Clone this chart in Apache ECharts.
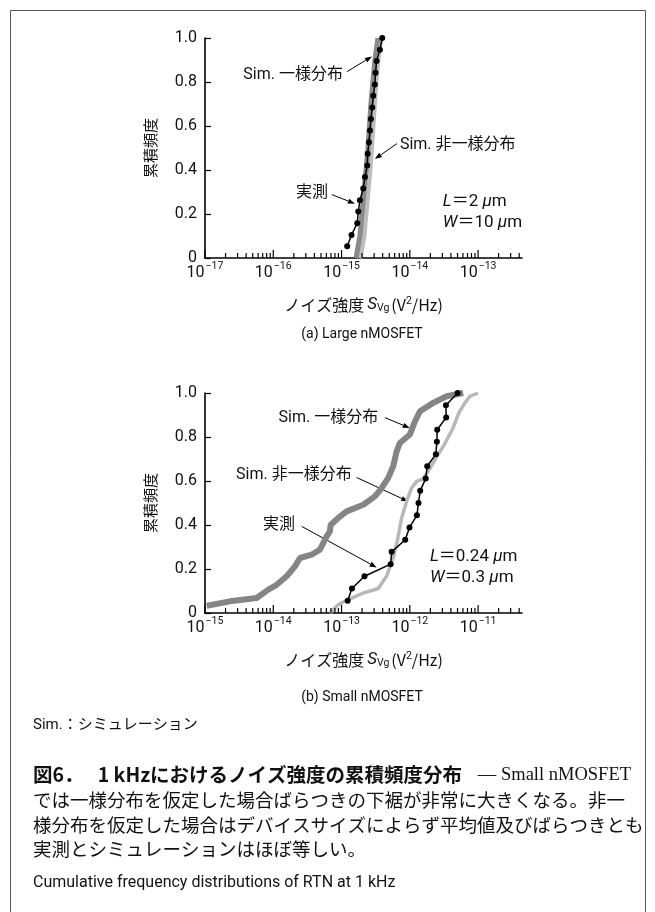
<!DOCTYPE html>
<html>
<head>
<meta charset="utf-8">
<script src="https://cdn.jsdelivr.net/npm/echarts@6.0.0/dist/echarts.min.js"></script>
<style>
html, body { margin: 0; padding: 0; background: #fff; }
#main { width: 655px; height: 912px; }
</style>
</head>
<body>
<div id="main"></div>
<script type="text/javascript">
// ---- (a) Large nMOSFET : [Svg (V^2/Hz), cumulative frequency]
var largeMeasured = [
    [1.21e-15, 0.053], [1.40e-15, 0.105], [1.70e-15, 0.158], [1.76e-15, 0.211],
    [1.86e-15, 0.263], [2.08e-15, 0.316], [2.20e-15, 0.368], [2.38e-15, 0.421],
    [2.41e-15, 0.474], [2.52e-15, 0.526], [2.61e-15, 0.579], [2.69e-15, 0.632],
    [2.82e-15, 0.684], [2.92e-15, 0.737], [3.08e-15, 0.789], [3.15e-15, 0.842],
    [3.26e-15, 0.895], [3.65e-15, 0.947], [3.95e-15, 1.0]
];
var largeUniform = [
    [1.63e-15, 0.0], [1.74e-15, 0.05], [1.86e-15, 0.1], [1.99e-15, 0.2],
    [2.13e-15, 0.3], [2.28e-15, 0.4], [2.44e-15, 0.5], [2.56e-15, 0.6],
    [2.69e-15, 0.7], [2.88e-15, 0.8], [3.08e-15, 0.9], [3.41e-15, 1.0]
];
var largeNonUniform = [
    [1.80e-15, 0.0], [2.06e-15, 0.1], [2.20e-15, 0.2], [2.35e-15, 0.3],
    [2.52e-15, 0.4], [2.65e-15, 0.5], [2.79e-15, 0.6], [2.93e-15, 0.7],
    [3.08e-15, 0.8], [3.30e-15, 0.9], [3.65e-15, 1.0]
];

// ---- (b) Small nMOSFET
var smallMeasured = [
    [1.23e-13, 0.056], [1.42e-13, 0.111], [2.17e-13, 0.167], [5.24e-13, 0.222],
    [5.42e-13, 0.278], [8.57e-13, 0.333], [9.9e-13, 0.389], [1.27e-12, 0.444],
    [1.34e-12, 0.5], [1.42e-12, 0.556], [1.71e-12, 0.611], [1.80e-12, 0.667],
    [2.41e-12, 0.722], [2.49e-12, 0.778], [2.52e-12, 0.833], [3.41e-12, 0.889],
    [3.38e-12, 0.944], [5.02e-12, 1.0]
];
var smallUniform = [
    [1.06e-15, 0.033], [2.32e-15, 0.053], [5.71e-15, 0.068], [8.45e-15, 0.106],
    [1.12e-14, 0.128], [1.57e-14, 0.167], [2.08e-14, 0.212], [2.46e-14, 0.25],
    [3.65e-14, 0.265], [4.83e-14, 0.288], [6.05e-14, 0.348], [6.76e-14, 0.371],
    [6.9e-14, 0.40], [8.95e-14, 0.432], [1.19e-13, 0.462], [2.08e-13, 0.492],
    [3.08e-13, 0.53], [3.86e-13, 0.568], [4.83e-13, 0.614], [5.71e-13, 0.667],
    [6.41e-13, 0.735], [7.16e-13, 0.773], [1.0e-12, 0.811], [1.19e-12, 0.871],
    [1.41e-12, 0.917], [2.20e-12, 0.955], [3.46e-12, 0.985], [6.05e-12, 1.0]
];
var smallNonUniform = [
    [6.76e-14, 0.0], [8.95e-14, 0.038], [1.24e-13, 0.06], [2.08e-13, 0.091],
    [3.41e-13, 0.11], [4.57e-13, 0.167], [5.71e-13, 0.25], [6.58e-13, 0.33],
    [7.59e-13, 0.432], [8.98e-13, 0.507], [1.06e-12, 0.568], [1.26e-12, 0.598],
    [1.57e-12, 0.61], [2.04e-12, 0.665], [2.49e-12, 0.712], [3.16e-12, 0.762],
    [4.21e-12, 0.835], [5.24e-12, 0.91], [6.41e-12, 0.955], [7.59e-12, 0.985],
    [1.0e-11, 1.0]
];

// axes: decades shown and the minor tick multipliers
var largeDecades = [-17, -16, -15, -14, -13];
var smallDecades = [-15, -14, -13, -12, -11];
var tickMultipliers = [1, 2, 3, 4, 5, 6, 7, 8, 9];
var yTicks = ['0', '0.2', '0.4', '0.6', '0.8', '1.0'];

// annotations, in data units: [text, [x, y] of text, align, arrow start, arrow end]
var largeNotes = [
    ['Sim. 一様分布', [1.05e-15, 0.833], 'right', [1.2e-15, 0.847], [2.79e-15, 0.916]],
    ['Sim. 非一様分布', [7.16e-15, 0.515], 'left', [6.47e-15, 0.52], [3.08e-15, 0.45]],
    ['実測', [6.32e-16, 0.297], 'right', [7.23e-16, 0.288], [1.57e-15, 0.247]]
];
var smallNotes = [
    ['Sim. 一様分布', [3.44e-13, 0.886], 'right', [4.32e-13, 0.888], [1.0e-12, 0.841]],
    ['Sim. 非一様分布', [1.41e-13, 0.629], 'right', [1.66e-13, 0.616], [9.48e-13, 0.507]],
    ['実測', [2.08e-14, 0.401], 'right', [2.6e-14, 0.394], [3.27e-13, 0.207]]
];
var largeSize = ['{it|L}＝2 {it|μ}m', '{it|W}＝10 {it|μ}m'];
var smallSize = ['{it|L}＝0.24 {it|μ}m', '{it|W}＝0.3 {it|μ}m'];
var largeSizePos = [3.05e-14, 0.256, 0.16];
var smallSizePos = [1.97e-12, 0.257, 0.159];

var latin = 'Roboto, "Noto Sans CJK JP", sans-serif';
var cjk = '"Noto Sans CJK JP", sans-serif';

function buildTicks(decades, max) {
    var out = [];
    decades.forEach(function (d) {
        tickMultipliers.forEach(function (m) {
            var v = m * Math.pow(10, d);
            if (v <= max) out.push([v, m === 1 ? 1 : 0]);
        });
    });
    return out;
}

function renderTick(params, api) {
    var p = api.coord([api.value(0), 0]);
    var len = api.value(1) ? 8 : 5;
    return {
        type: 'line',
        shape: { x1: p[0], y1: p[1], x2: p[0], y2: p[1] - len },
        style: { stroke: '#000', lineWidth: 1.2 }
    };
}

function powLabel(v) {
    var e = Math.round(Math.log(v) / Math.LN10);
    return '{b|10}{s|−' + (-e) + '}';
}

var xRich = {
    b: { fontSize: 16, fontFamily: latin, color: '#111', lineHeight: 20, verticalAlign: 'bottom' },
    s: { fontSize: 10.5, fontFamily: latin, color: '#111', lineHeight: 20, verticalAlign: 'top', padding: [0, 0, 0, 1] }
};

function xAxisFor(idx, min, max) {
    return {
        type: 'log',
        logBase: 10,
        gridIndex: idx,
        min: min,
        max: max,
        axisLine: { lineStyle: { color: '#000', width: 1.6 } },
        axisTick: { show: false },
        splitLine: { show: false },
        axisLabel: { formatter: powLabel, rich: xRich, margin: 3, showMaxLabel: false },
        name: 'ノイズ強度{i|S}{sub|Vg}(V{sup|2}/Hz)',
        nameLocation: 'middle',
        nameGap: 38,
        nameTextStyle: {
            fontFamily: cjk, fontSize: 16, color: '#111',
            rich: {
                i: { fontFamily: latin, fontStyle: 'italic', fontSize: 17, color: '#111', padding: [0, 0, 0, 3] },
                sub: { fontFamily: latin, fontSize: 10.5, color: '#111', verticalAlign: 'bottom', lineHeight: 18, padding: [0, 2, 0, 0] },
                sup: { fontFamily: latin, fontSize: 10.5, color: '#111', verticalAlign: 'top', lineHeight: 18 }
            }
        }
    };
}

function yAxisFor(idx) {
    return {
        type: 'value',
        gridIndex: idx,
        min: 0,
        max: 1,
        interval: 0.2,
        axisLine: { show: true, lineStyle: { color: '#000', width: 1.6 } },
        axisTick: { show: true, inside: true, length: 6, lineStyle: { color: '#000', width: 1.2 } },
        splitLine: { show: false },
        axisLabel: {
            fontSize: 16, fontFamily: latin, color: '#111', margin: 8,
            formatter: function (v) { return yTicks[Math.round(v * 5)]; }
        },
        name: '累積頻度',
        nameLocation: 'middle',
        nameGap: 47,
        nameTextStyle: { fontFamily: cjk, fontSize: 15, color: '#111' }
    };
}

function curve(name, idx, data, color, width, z) {
    return {
        name: name, type: 'line', xAxisIndex: idx, yAxisIndex: idx,
        data: data, showSymbol: false, silent: true, z: z,
        lineStyle: { color: color, width: width, join: 'bevel' }
    };
}

function measured(idx, data) {
    return {
        name: '実測', type: 'line', xAxisIndex: idx, yAxisIndex: idx,
        data: data, symbol: 'circle', symbolSize: 6, silent: true, z: 5,
        itemStyle: { color: '#000' },
        lineStyle: { color: '#000', width: 1.5 }
    };
}

function tickSeries(idx, ticks) {
    return {
        type: 'custom', xAxisIndex: idx, yAxisIndex: idx, silent: true, z: 6,
        renderItem: renderTick, data: ticks, clip: false
    };
}

var largeMax = 4.4e-13;
var smallMax = 4.4e-11;

var option = {
    animation: false,
    backgroundColor: '#fff',
    grid: [
        { left: 205, top: 38, width: 317, height: 220 },
        { left: 205, top: 393, width: 317, height: 220 }
    ],
    xAxis: [xAxisFor(0, 1e-17, largeMax), xAxisFor(1, 1e-15, smallMax)],
    yAxis: [yAxisFor(0), yAxisFor(1)],
    series: [
        curve('Sim. 非一様分布', 0, largeNonUniform, '#bdbdbd', 7, 2),
        curve('Sim. 一様分布', 0, largeUniform, '#8a8a8a', 5, 3),
        measured(0, largeMeasured),
        tickSeries(0, buildTicks(largeDecades, largeMax)),
        curve('Sim. 非一様分布', 1, smallNonUniform, '#b8b8b8', 3.5, 2),
        curve('Sim. 一様分布', 1, smallUniform, '#858585', 6, 3),
        measured(1, smallMeasured),
        tickSeries(1, buildTicks(smallDecades, smallMax))
    ]
};

var myChart = echarts.init(document.getElementById('main'));
myChart.setOption(option);

// ---- annotations and caption (placed through the grid's scales)
function arrow(p0, p1) {
    var dx = p1[0] - p0[0], dy = p1[1] - p0[1];
    var len = Math.sqrt(dx * dx + dy * dy);
    var ux = dx / len, uy = dy / len, h = 7, w = 2.6;
    var bx = p1[0] - ux * h, by = p1[1] - uy * h;
    return [
        { type: 'line', silent: true, shape: { x1: p0[0], y1: p0[1], x2: bx, y2: by }, style: { stroke: '#000', lineWidth: 1 } },
        { type: 'polygon', silent: true, shape: { points: [[p1[0], p1[1]], [bx - uy * w, by + ux * w], [bx + uy * w, by - ux * w]] }, style: { fill: '#000' } }
    ];
}

var noteRich = {
    it: { fontFamily: latin, fontStyle: 'italic', fontSize: 17, color: '#111' }
};

function notes(idx, list, size, sizePos) {
    var out = [];
    list.forEach(function (n) {
        var p = myChart.convertToPixel({ gridIndex: idx }, n[1]);
        out.push({
            type: 'text', silent: true, x: p[0], y: p[1],
            style: { text: n[0], font: '16px ' + latin, fill: '#111', align: n[2], verticalAlign: 'middle' }
        });
        var a = myChart.convertToPixel({ gridIndex: idx }, n[3]);
        var b = myChart.convertToPixel({ gridIndex: idx }, n[4]);
        out = out.concat(arrow(a, b));
    });
    for (var i = 0; i < 2; i++) {
        var q = myChart.convertToPixel({ gridIndex: idx }, [sizePos[0], sizePos[i + 1]]);
        out.push({
            type: 'text', silent: true, x: q[0], y: q[1],
            style: { text: size[i], font: '17px ' + latin, fill: '#111', align: 'left', verticalAlign: 'middle', rich: noteRich }
        });
    }
    return out;
}

function label(x, y, text, font, align) {
    return { type: 'text', silent: true, x: x, y: y, style: { text: text, font: font, fill: '#111', align: align || 'left', verticalAlign: 'middle' } };
}

var graphic = [
    { type: 'rect', silent: true, shape: { x: 10.5, y: 10.5, width: 635, height: 920 }, style: { fill: 'none', stroke: '#555', lineWidth: 1 } },
    label(362, 334, '(a) Large nMOSFET', '14px ' + latin, 'center'),
    label(362, 697, '(b) Small nMOSFET', '14px ' + latin, 'center'),
    label(33, 725, 'Sim.：シミュレーション', '15px ' + latin),
    label(33, 775, '図6．　 1 kHzにおけるノイズ強度の累積頻度分布', 'bold 19.5px ' + cjk),
    label(631, 775, '— Small nMOSFET', '18.5px "Liberation Serif", serif', 'right'),
    label(33, 800, 'では一様分布を仮定した場合ばらつきの下裾が非常に大きくなる。非一', '18.5px ' + cjk),
    label(33, 825, '様分布を仮定した場合はデバイスサイズによらず平均値及びばらつきとも', '18.5px ' + cjk),
    label(33, 849, '実測とシミュレーションはほぼ等しい。', '18.5px ' + cjk),
    label(33, 883, 'Cumulative frequency distributions of RTN at 1 kHz', '16px ' + latin)
].concat(notes(0, largeNotes, largeSize, largeSizePos), notes(1, smallNotes, smallSize, smallSizePos));

myChart.setOption({ graphic: graphic });
</script>
</body>
</html>
